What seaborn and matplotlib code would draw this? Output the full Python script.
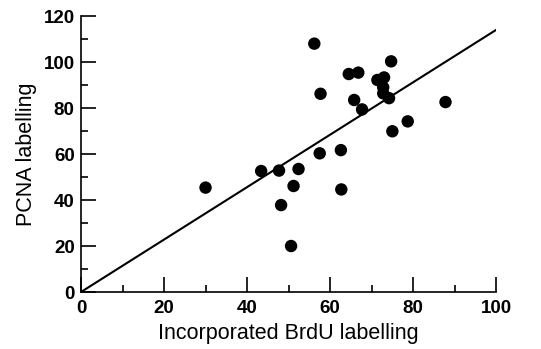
import numpy as np
import pandas as pd
import matplotlib
matplotlib.use("Agg")
import matplotlib.pyplot as plt
import seaborn as sns
from matplotlib.ticker import MultipleLocator

#Values
brdu = [56.2, 74.7, 64.5, 66.8, 71.4, 73.0, 72.8, 72.8, 74.2, 57.7, 65.8, 67.7, 87.8,
        78.7, 75.0, 57.5, 62.6, 43.4, 47.7, 52.4, 51.2, 30.0, 62.7, 48.2, 50.6]
pcna = [108.0, 100.3, 94.8, 95.4, 92.2, 93.3, 89.0, 86.4, 84.3, 86.2, 83.5, 79.4, 82.6,
        74.2, 69.9, 60.3, 61.7, 52.6, 52.8, 53.5, 46.1, 45.4, 44.6, 37.8, 20.0]
#Regression line end points
line_x = [0, 100]
line_y = [0, 114]

df = pd.DataFrame({"BrdU": brdu, "PCNA": pcna})
df_line = pd.DataFrame({"x": line_x, "y": line_y})

sns.set_style("ticks")
plt.rcParams['font.family'] = ['Liberation Sans', 'DejaVu Sans']
plt.rcParams['text.color'] = 'black'
plt.rcParams['axes.labelcolor'] = 'black'
plt.rcParams['xtick.color'] = 'black'
plt.rcParams['ytick.color'] = 'black'
plt.rcParams['axes.edgecolor'] = 'black'

fig = plt.figure(figsize=(5.41, 3.49), dpi=100)
ax = fig.add_axes([0.1497, 0.1633, 0.7674, 0.7907])

sns.lineplot(data=df_line, x="x", y="y", color="black", linewidth=1.5, ax=ax)
sns.scatterplot(data=df, x="BrdU", y="PCNA", color="black", s=80, edgecolor="none", ax=ax, zorder=3)

ax.set_xlim(0, 100)
ax.set_ylim(0, 120)
ax.xaxis.set_major_locator(MultipleLocator(20))
ax.xaxis.set_minor_locator(MultipleLocator(10))
ax.yaxis.set_major_locator(MultipleLocator(20))
ax.yaxis.set_minor_locator(MultipleLocator(10))
ax.tick_params(which="major", direction="in", length=10.5, width=1.2, labelsize=13.5, pad=4.5)
ax.tick_params(axis="x", which="major", pad=6)
ax.tick_params(which="minor", direction="in", length=5, width=1.2)
for lab in ax.get_xticklabels() + ax.get_yticklabels():
    lab.set_fontweight("bold")

sns.despine(ax=ax)
for sp in ["left", "bottom"]:
    ax.spines[sp].set_linewidth(1.2)

ax.set_xlabel("Incorporated BrdU labelling", fontsize=15.5, labelpad=4)
ax.set_ylabel("PCNA labelling", fontsize=15.5, labelpad=5)

fig.savefig("out.png", dpi=100)
